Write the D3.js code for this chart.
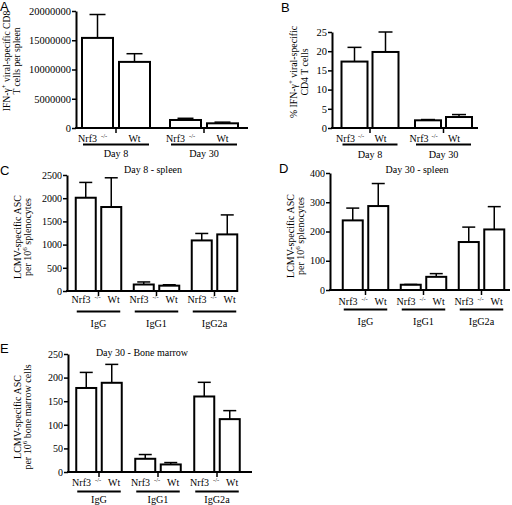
<!DOCTYPE html>
<html><head><meta charset="utf-8">
<script src="https://cdn.jsdelivr.net/npm/d3@7"></script>
<style>body{margin:0;background:#fff} svg{display:block} text{font-family:"Liberation Serif","Times New Roman",serif}</style>
</head><body><svg id="c" width="512" height="505"></svg>
<script>
// ---- data ----
const genotypes = ["Nrf3", "Wt"];
const days = ["Day 8", "Day 30"];
const isotypes = ["IgG", "IgG1", "IgG2a"];

const aMean = [[15400000, 11300000], [1370000, 800000]];
const aSem  = [[4000000, 1400000], [290000, 200000]];
const aTicks = [0, 5000000, 10000000, 15000000, 20000000];

const bMean = [[17.3, 19.8], [2.0, 2.86]];
const bSem  = [[3.7, 5.2], [0.2, 0.64]];
const bTicks = [0, 5, 10, 15, 20, 25];

const cMean = [[2010, 1810], [140, 115], [1090, 1220]];
const cSem  = [[330, 630], [55, 20], [150, 420]];
const cTicks = [0, 500, 1000, 1500, 2000, 2500];

const dMean = [[238, 287], [18, 45], [164, 207]];
const dSem  = [[42, 77], [1, 11], [51, 78]];
const dTicks = [0, 100, 200, 300, 400];

const eMean = [[178, 189], [28, 16], [160, 112]];
const eSem  = [[33, 39], [9, 4], [30, 18]];
const eTicks = [0, 50, 100, 150, 200, 250];

// ---- layout ----
const svg = d3.select("#c");
const SERIF = "Liberation Serif, Times New Roman, serif";
const SANS = "Liberation Sans, Arial, sans-serif";

const panels = [
  {letter:"A", lx:0, ly:11, groups:days, mean:aMean, sem:aSem, ticks:aTicks,
   ax:76, axEnd:248, yTop:11, yBot:128, c0:116, step:88, bw:31, gap:6, cap:16,
   nrfEnd:-19, supStart:-15, wtDx:0, wtAnchor:"middle",
   labY:141.5, ulY:144.5, grpY:157, tickFs:10.5, ylFs:9.6,
   ylab:[["IFN-γ", "+", " viral-specific CD8"], ["T cells per spleen"]], ylx:[10, 20], yly:61},
  {letter:"B", lx:281, ly:12, groups:days, mean:bMean, sem:bSem, ticks:bTicks,
   ax:332, axEnd:478, yTop:32, yBot:128, c0:370, step:73.5, bw:26, gap:5, cap:14,
   nrfEnd:-15, supStart:-12, wtDx:-5, wtAnchor:"middle",
   labY:142, ulY:144.5, grpY:158, tickFs:10.5, ylFs:9.8,
   ylab:[["% IFN-γ", "+", " viral-specific"], ["CD4 T cells"]], ylx:[297, 307.5], yly:72},
  {letter:"C", lx:0, ly:175, groups:isotypes, mean:cMean, sem:cSem, ticks:cTicks,
   ax:67, axEnd:237, yTop:175, yBot:291, c0:98.5, step:58, bw:20, gap:5.5, cap:13,
   nrfEnd:-8, supStart:-4, wtDx:9, wtAnchor:"start",
   labY:303, ulY:311.5, grpY:327, tickFs:10, ylFs:10,
   ylab:[["LCMV-specific ASC"], ["per 10", "6", " splenocytes"]], ylx:[21, 31], yly:237,
   title:"Day 8 - spleen", tx:153, ty:173},
  {letter:"D", lx:279, ly:173, groups:isotypes, mean:dMean, sem:dSem, ticks:dTicks,
   ax:330, axEnd:510, yTop:173, yBot:290, c0:365.5, step:58, bw:20, gap:5.5, cap:13,
   nrfEnd:-8, supStart:-4, wtDx:9, wtAnchor:"start",
   labY:305, ulY:309.5, grpY:325, tickFs:10, ylFs:10,
   ylab:[["LCMV-specific ASC"], ["per 10", "6", " splenocytes"]], ylx:[294, 304], yly:236,
   title:"Day 30 - spleen", tx:417, ty:173},
  {letter:"E", lx:0, ly:353, groups:isotypes, mean:eMean, sem:eSem, ticks:eTicks,
   ax:68, axEnd:252, yTop:354, yBot:472, c0:99, step:59, bw:20, gap:5.5, cap:13,
   nrfEnd:-8, supStart:-4, wtDx:9, wtAnchor:"start",
   labY:486, ulY:491.5, grpY:503, tickFs:10, ylFs:10,
   ylab:[["LCMV-specific ASC"], ["per 10", "6", " bone marrow cells"]], ylx:[21, 31], yly:417,
   title:"Day 30 - Bone marrow", tx:142, ty:356}
];

function drawPanel(p) {
  const g = svg.append("g");
  const yMax = p.ticks[p.ticks.length - 1];
  const y = d3.scaleLinear().domain([0, yMax]).range([p.yBot, p.yTop]);
  const x0 = p.c0 - p.step / 2;
  const xg = d3.scaleBand().domain(p.groups).range([x0, x0 + p.groups.length * p.step]);
  const half = p.bw + p.gap / 2;
  const xi = d3.scaleBand().domain(genotypes).range([-half, half]).paddingInner(p.gap / (p.bw + p.gap));
  const gc = grp => xg(grp) + xg.bandwidth() / 2;

  // panel letter
  g.append("text").attr("x", p.lx).attr("y", p.ly).style("font-family", SANS)
    .attr("font-size", 13).text(p.letter);

  // y axis
  const ax = g.append("g").attr("transform", `translate(${p.ax},0)`)
    .call(d3.axisLeft(y).tickValues(p.ticks).tickSize(4).tickSizeOuter(0).tickFormat(d3.format("d")));
  ax.select(".domain").attr("stroke-width", 2);
  ax.selectAll(".tick line").attr("stroke-width", 1.5);
  ax.selectAll(".tick text").style("font-family", SERIF).attr("font-size", p.tickFs).attr("fill", "#000").attr("x", -5);

  // bars
  p.groups.forEach((grp, i) => {
    genotypes.forEach((gen, j) => {
      const m = p.mean[i][j], s = p.sem[i][j];
      const bx = gc(grp) + xi(gen);
      const cx = bx + xi.bandwidth() / 2;
      g.append("rect").attr("x", bx).attr("y", y(m)).attr("width", xi.bandwidth())
        .attr("height", y(0) - y(m)).attr("fill", "#fff").attr("stroke", "#000").attr("stroke-width", 2);
      g.append("line").attr("x1", cx).attr("x2", cx).attr("y1", y(m)).attr("y2", y(m + s))
        .attr("stroke", "#000").attr("stroke-width", 1.5);
      g.append("line").attr("x1", cx - p.cap / 2).attr("x2", cx + p.cap / 2).attr("y1", y(m + s)).attr("y2", y(m + s))
        .attr("stroke", "#000").attr("stroke-width", 1.5);
    });
    const c = gc(grp);
    // group tick
    g.append("line").attr("x1", c).attr("x2", c).attr("y1", y(0)).attr("y2", y(0) + 5)
      .attr("stroke", "#000").attr("stroke-width", 1.5);
    // genotype labels
    g.append("text").attr("x", c + p.nrfEnd).attr("y", p.labY).attr("text-anchor", "end")
      .attr("font-size", 10).text(genotypes[0]);
    g.append("text").attr("x", c + p.supStart).attr("y", p.labY - 4).attr("text-anchor", "start")
      .attr("font-size", 6.5).text("-/-");
    const wtC = c + xi(genotypes[1]) + xi.bandwidth() / 2;
    g.append("text").attr("x", p.wtAnchor === "middle" ? wtC + p.wtDx : c + p.wtDx).attr("y", p.labY)
      .attr("text-anchor", p.wtAnchor).attr("font-size", 10).text(genotypes[1]);
    // underline
    const l = c + xi(genotypes[0]) + 1, r = c + xi(genotypes[1]) + xi.bandwidth() - 1;
    g.append("line").attr("x1", l).attr("x2", r).attr("y1", p.ulY).attr("y2", p.ulY)
      .attr("stroke", "#000").attr("stroke-width", 2);
    g.append("text").attr("x", c).attr("y", p.grpY).attr("text-anchor", "middle")
      .attr("font-size", 10.2).text(grp);
  });

  // x axis baseline
  g.append("line").attr("x1", p.ax - 1).attr("x2", p.axEnd).attr("y1", y(0)).attr("y2", y(0))
    .attr("stroke", "#000").attr("stroke-width", 2);

  // y label
  p.ylab.forEach((parts, k) => {
    const t = g.append("text").attr("transform", `translate(${p.ylx[k]},${p.yly}) rotate(-90)`)
      .attr("text-anchor", "middle").attr("font-size", p.ylFs);
    parts.forEach((s, q) => {
      if (q === 1) t.append("tspan").attr("font-size", 7).attr("dy", -4).text(s);
      else if (q === 2) t.append("tspan").attr("dy", 4).text(s);
      else t.append("tspan").text(s);
    });
  });

  if (p.title) {
    g.append("text").attr("x", p.tx).attr("y", p.ty).attr("text-anchor", "middle")
      .attr("font-size", 10).text(p.title);
  }
}

panels.forEach(drawPanel);
</script></body></html>
